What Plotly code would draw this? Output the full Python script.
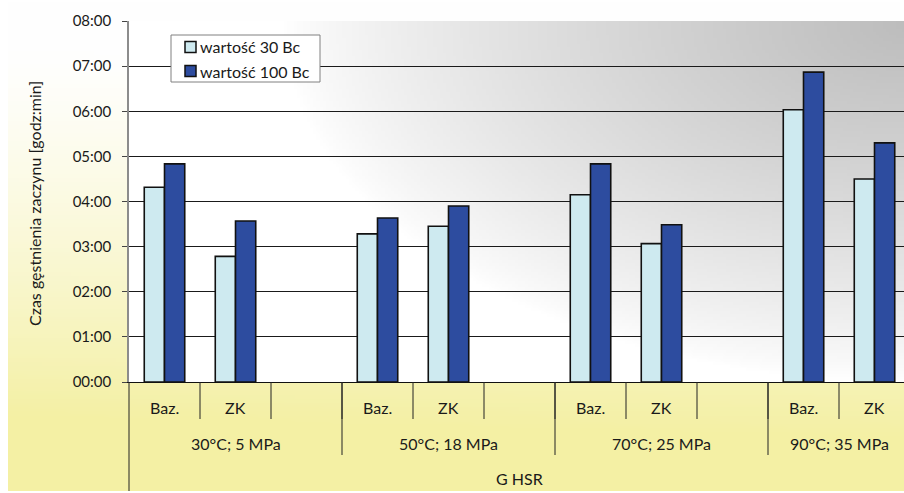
import base64
import struct
import zlib

import numpy as np
import plotly.graph_objects as go

# ---- data -------------------------------------------------------------
group_labels = ["30°C; 5 MPa", "50°C; 18 MPa", "70°C; 25 MPa", "90°C; 35 MPa"]
group_sizes = [3, 3, 3, 2]
sub_labels = ["Baz.", "ZK", "", "Baz.", "ZK", "", "Baz.", "ZK", "", "Baz.", "ZK"]
outer_label = "G HSR"

series_names = ["wartość 30 Bc", "wartość 100 Bc"]
series_colors = ["#CEEAF0", "#2D4C9F"]
# thickening time, hh:mm
t_30bc = ["04:19", "02:47", None, "03:17", "03:27", None, "04:09", "03:04", None, "06:02", "04:30"]
t_100bc = ["04:50", "03:34", None, "03:38", "03:54", None, "04:50", "03:29", None, "06:52", "05:18"]

y_ticks = ["00:00", "01:00", "02:00", "03:00", "04:00", "05:00", "06:00", "07:00", "08:00"]
y_title = "Czas gęstnienia zaczynu [godz:min]"


def to_hours(s):
    if s is None:
        return None
    h, m = s.split(":")
    return int(h) + int(m) / 60.0


# ---- geometry (px) ----------------------------------------------------
W, H = 904, 493
ML, MT, MB = 129, 21, 111
PW, PH = W - ML, H - MT - MB
slot_px = 71.0
n_slots = len(sub_labels)
x_lo = -0.5
x_hi = x_lo + PW / slot_px


def py2paper(py):
    return (H - MB - py) / PH


def px2paper(px):
    return (px - ML) / PW


# ---- gradient backgrounds as small PNGs -------------------------------
def png_uri(arr):
    h, w, _ = arr.shape
    raw = b"".join(b"\x00" + arr[j].astype(np.uint8).tobytes() for j in range(h))

    def chunk(tag, data):
        return (struct.pack(">I", len(data)) + tag + data
                + struct.pack(">I", zlib.crc32(tag + data) & 0xFFFFFFFF))

    png = (b"\x89PNG\r\n\x1a\n"
           + chunk(b"IHDR", struct.pack(">IIBBBBB", w, h, 8, 2, 0, 0, 0))
           + chunk(b"IDAT", zlib.compress(raw, 9))
           + chunk(b"IEND", b""))
    return "data:image/png;base64," + base64.b64encode(png).decode()


# plot area: white at bottom-left, grey towards the top-right corner
gw, gh = 240, 120
u = np.linspace(0, 1, gw)[None, :]
v = np.linspace(1, 0, gh)[:, None]
r = np.sqrt(((1 - u) / 0.8) ** 2 + ((1 - v) / 1.0) ** 2)
depth = 66 * np.clip(1 - r, 0, 1) ** 0.8
grey = 255 - depth
plot_bg = np.stack([grey, grey, grey], axis=-1)

# outer frame: white at the top, fading to pale yellow at the bottom
ow, oh = 120, 120
oy = np.linspace(0, 1, oh)[:, None] * np.ones((1, ow))
ox = np.linspace(0, 1, ow)[None, :] * np.ones((oh, 1))
t = np.clip((oy - 0.1) / 0.8, 0, 1) ** 1.3
t = np.clip(t + 0.08 * (1 - ox) * oy, 0, 1)
yellow = np.array([244, 240, 164])
outer_bg = 255 + t[..., None] * (yellow - 255)

# ---- figure -----------------------------------------------------------
xs = list(range(n_slots))
fig = go.Figure()
for name, color, vals in zip(series_names, series_colors, [t_30bc, t_100bc]):
    fig.add_trace(go.Bar(
        x=xs, y=[to_hours(s) for s in vals], name=name,
        marker=dict(color=color, line=dict(color="#111111", width=1.6)),
    ))

font = "Lato, 'Open Sans', sans-serif"
LABEL_SIZE = 16

shapes = []
annotations = []
# sub-category row
for i, lab in enumerate(sub_labels):
    annotations.append(dict(x=i, y=py2paper(407.5), xref="x", yref="paper", text=lab,
                            showarrow=False, xanchor="center", yanchor="middle"))
    if i < n_slots - 1:
        shapes.append(dict(type="line", xref="x", yref="paper", x0=i + 0.5, x1=i + 0.5,
                           y0=py2paper(382), y1=py2paper(419),
                           line=dict(color="#222222", width=1)))
# group row
start = 0
for g, (lab, n) in enumerate(zip(group_labels, group_sizes)):
    annotations.append(dict(x=start + (n - 1) / 2, y=py2paper(443), xref="x", yref="paper",
                            text=lab, showarrow=False, xanchor="center", yanchor="middle"))
    if g > 0:
        shapes.append(dict(type="line", xref="x", yref="paper", x0=start - 0.5, x1=start - 0.5,
                           y0=py2paper(382), y1=py2paper(455),
                           line=dict(color="#222222", width=1)))
    start += n
# outer row
annotations.append(dict(x=(n_slots - 1) / 2, y=py2paper(478), xref="x", yref="paper",
                        text=outer_label, showarrow=False, xanchor="center", yanchor="middle"))
shapes.append(dict(type="line", xref="paper", yref="paper", x0=0, x1=0,
                   y0=py2paper(382), y1=py2paper(491), line=dict(color="#222222", width=1)))
# y axis title
annotations.append(dict(x=px2paper(34), y=py2paper(204), xref="paper", yref="paper",
                        text=y_title, textangle=-90, showarrow=False,
                        xanchor="center", yanchor="middle", font=dict(size=16)))

# legend box
shapes.append(dict(type="rect", xref="paper", yref="paper",
                   x0=px2paper(171), x1=px2paper(320), y0=py2paper(35), y1=py2paper(82),
                   fillcolor="white", line=dict(color="#808080", width=1)))
for k, (name, color) in enumerate(zip(series_names, series_colors)):
    cy = 47 + 24 * k
    shapes.append(dict(type="rect", xref="paper", yref="paper",
                       x0=px2paper(185), x1=px2paper(196),
                       y0=py2paper(cy - 5.5), y1=py2paper(cy + 5.5),
                       fillcolor=color, line=dict(color="#111111", width=1.5)))
    annotations.append(dict(x=px2paper(198), y=py2paper(cy), xref="paper", yref="paper",
                            text=name, showarrow=False, xanchor="left", yanchor="middle"))

images = [
    dict(source=png_uri(outer_bg), xref="paper", yref="paper",
         x=px2paper(8), y=py2paper(0), sizex=(W - 8) / PW, sizey=491 / PH,
         sizing="stretch", layer="below", xanchor="left", yanchor="top"),
    dict(source=png_uri(plot_bg), xref="x", yref="y",
         x=-0.5, y=8, sizex=n_slots, sizey=8,
         sizing="stretch", layer="below", xanchor="left", yanchor="top"),
]

fig.update_layout(
    width=W, height=H,
    margin=dict(l=ML, r=0, t=MT, b=MB, pad=0),
    paper_bgcolor="white",
    plot_bgcolor="rgba(0,0,0,0)",
    font=dict(family=font, size=LABEL_SIZE, color="#1a1a1a"),
    barmode="group", bargap=0.43, bargroupgap=0,
    showlegend=False,
    shapes=shapes, annotations=annotations, images=images,
)
fig.update_xaxes(range=[x_lo, x_hi], showticklabels=False, ticks="", showgrid=False,
                 zeroline=False, showline=True, linecolor="#111111", linewidth=1.3)
fig.update_yaxes(range=[0, 8], tickvals=list(range(len(y_ticks))), ticktext=y_ticks,
                 tickfont=dict(size=15),
                 ticks="outside", ticklen=5, tickcolor="#444444", ticklabelstandoff=8,
                 showgrid=True, gridcolor="#1a1a1a", gridwidth=1.2, zeroline=False,
                 showline=True, linecolor="#8c8c8c", linewidth=1.6)

fig.write_html("out.html")
